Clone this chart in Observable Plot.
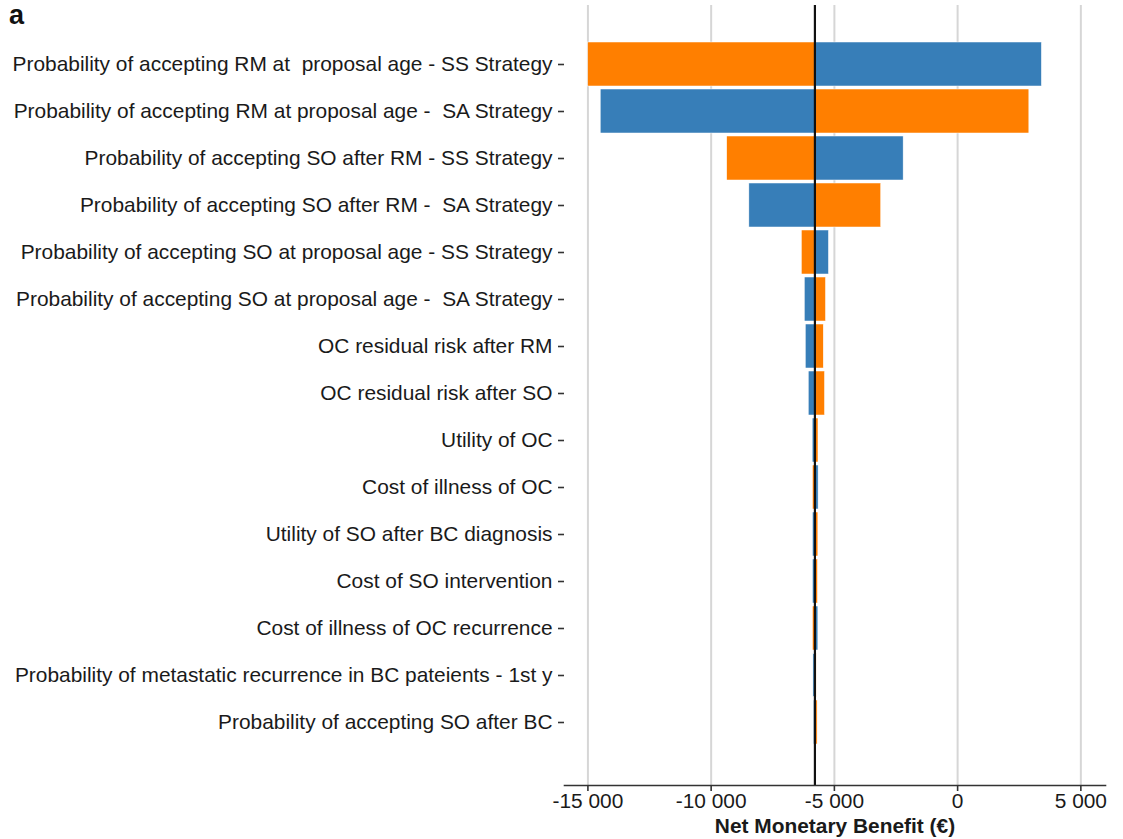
<!DOCTYPE html>
<html>
<head>
<meta charset="utf-8">
<script src="https://cdn.jsdelivr.net/npm/d3@7"></script>
<script src="https://cdn.jsdelivr.net/npm/@observablehq/plot@0.6"></script>
<style>
  html, body { margin: 0; padding: 0; background: #fff; }
  #wrap { position: relative; width: 1123px; height: 839px; }
  #tag { position: absolute; left: 9px; top: 0px; font: bold 27px "Liberation Sans", Arial, sans-serif; color: #111; }
</style>
</head>
<body>
<div id="wrap"><div id="tag">a</div></div>
<script>
// One-way sensitivity analysis (tornado diagram) of the net monetary benefit
const parameters = [
  "Probability of accepting RM at  proposal age - SS Strategy",
  "Probability of accepting RM at proposal age -  SA Strategy",
  "Probability of accepting SO after RM - SS Strategy",
  "Probability of accepting SO after RM -  SA Strategy",
  "Probability of accepting SO at proposal age - SS Strategy",
  "Probability of accepting SO at proposal age -  SA Strategy",
  "OC residual risk after RM",
  "OC residual risk after SO",
  "Utility of OC",
  "Cost of illness of OC",
  "Utility of SO after BC diagnosis",
  "Cost of SO intervention",
  "Cost of illness of OC recurrence",
  "Probability of metastatic recurrence in BC pateients - 1st y",
  "Probability of accepting SO after BC"
];

// Net monetary benefit (€) at each end of the parameter range
const nmbOrange = [-14990, 2910, -9350, -3100, -6320, -5340, -5430, -5380, -5645, -5870, -5650, -5665, -5870, -5720, -5680];
const nmbBlue   = [3420, -14480, -2190, -8450, -5220, -6200, -6160, -6040, -5880, -5640, -5870, -5870, -5650, -5850, -5830];

// Base-case net monetary benefit
const baseNMB = -5790;

const xTicks = [-15000, -10000, -5000, 0, 5000];

const rows = parameters.map((p, i) => ({ param: p, orange: nmbOrange[i], blue: nmbBlue[i] }));

const fmt = d => (d < 0 ? "-" : "") + String(Math.abs(d)).replace(/\B(?=(\d{3})+(?!\d))/g, " ");

const chart = Plot.plot({
  width: 1123,
  height: 839,
  marginLeft: 564,
  marginRight: 18,
  marginTop: 5,
  marginBottom: 54,
  style: { fontFamily: "'Liberation Sans', Arial, sans-serif", fontSize: "20.9px", color: "#1a1a1a", background: "white" },
  x: { domain: [-15950, 6000] },
  y: { domain: parameters, range: [39.45, 746.55], paddingInner: 0.06, paddingOuter: 0.03 },
  marks: [
    Plot.gridX(xTicks, { stroke: "#d6d6d6", strokeOpacity: 1, strokeWidth: 2 }),
    Plot.barX(rows, { y: "param", x1: () => baseNMB, x2: "orange", fill: "#FF7F00", stroke: "white", strokeWidth: 0.5 }),
    Plot.barX(rows, { y: "param", x1: () => baseNMB, x2: "blue", fill: "#377EB8", stroke: "white", strokeWidth: 0.5 }),
    Plot.ruleX([baseNMB], { stroke: "#111", strokeWidth: 2.2 }),
    Plot.frame({ anchor: "bottom", stroke: "#333", strokeWidth: 1.6 }),
    Plot.axisX(xTicks, {
      tickFormat: fmt, tickSize: 6, tickPadding: 2, stroke: "#333", strokeWidth: 1.6,
      fill: "#1a1a1a",
      label: null
    }),
    Plot.text(["Net Monetary Benefit (€)"], {
      frameAnchor: "bottom", dy: 41, fontWeight: "bold", fill: "#1a1a1a", lineAnchor: "middle"
    }),
    Plot.axisY({ tickSize: 6, tickPadding: 6, stroke: "#333", strokeWidth: 1.6, fill: "#1a1a1a", label: null })
  ]
});

// keep the double spaces inside some parameter names
chart.querySelectorAll('g[aria-label="y-axis tick label"] text').forEach(t => {
  t.setAttributeNS("http://www.w3.org/XML/1998/namespace", "xml:space", "preserve");
  t.style.whiteSpace = "pre";
});

document.getElementById("wrap").prepend(chart);
</script>
</body>
</html>
